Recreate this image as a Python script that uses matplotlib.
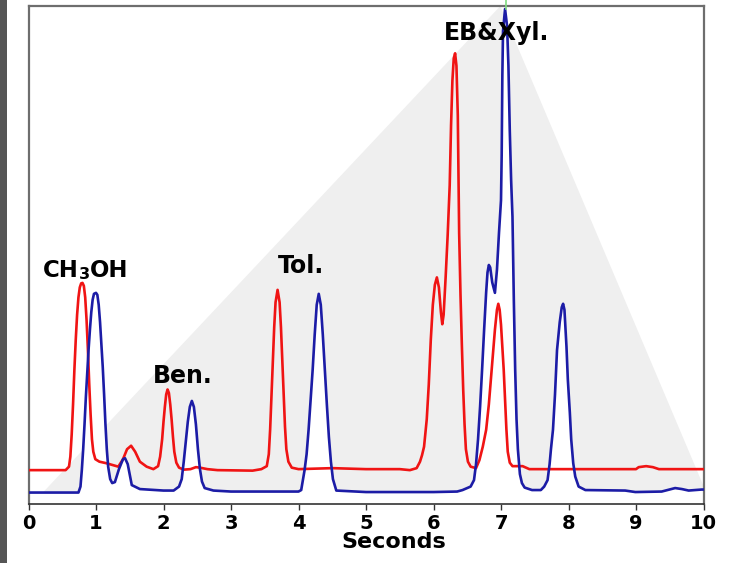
import matplotlib
matplotlib.use("Agg")
import matplotlib.pyplot as plt
from matplotlib.patches import Rectangle

# ---------------- data ----------------
red_t = [0.00, 0.55, 0.60, 0.62, 0.64, 0.66, 0.68, 0.70, 0.72, 0.74, 0.76, 0.78,
         0.80, 0.82, 0.84, 0.86, 0.88, 0.90, 0.92, 0.94, 0.96, 0.99, 1.05, 1.15,
         1.25, 1.33, 1.40, 1.46, 1.52, 1.58, 1.65, 1.75, 1.85, 1.92, 1.95, 1.98,
         2.00, 2.02, 2.04, 2.06, 2.08, 2.10, 2.12, 2.14, 2.16, 2.19, 2.23, 2.30,
         2.40, 2.48, 2.54, 2.65, 2.80, 3.32, 3.45, 3.53, 3.56, 3.58, 3.60, 3.62,
         3.64, 3.66, 3.69, 3.72, 3.74, 3.76, 3.78, 3.80, 3.82, 3.85, 3.90, 4.00,
         4.50, 5.00, 5.50, 5.65, 5.75, 5.80, 5.83, 5.86, 5.90, 5.93, 5.96, 5.99,
         6.02, 6.05, 6.08, 6.11, 6.13, 6.15, 6.18, 6.21, 6.24, 6.26, 6.28, 6.30,
         6.32, 6.34, 6.36, 6.37, 6.38, 6.40, 6.42, 6.44, 6.46, 6.48, 6.51, 6.55,
         6.63, 6.68, 6.73, 6.78, 6.82, 6.85, 6.88, 6.91, 6.94, 6.96, 6.98, 7.00,
         7.02, 7.04, 7.06, 7.08, 7.10, 7.13, 7.17, 7.32, 7.42, 9.00, 9.04, 9.15,
         9.25, 9.34, 10.00]
red_y = [6.8, 6.8, 7.5, 9.5, 14.0, 20.0, 27.0, 33.0, 38.0, 41.5, 43.5, 44.3,
         44.4, 43.8, 41.5, 37.0, 31.0, 24.0, 18.0, 13.0, 10.5, 9.0, 8.5, 8.2,
         7.8, 7.5, 9.0, 11.0, 11.7, 10.5, 8.5, 7.5, 7.0, 7.6, 9.5, 13.0,
         16.5, 19.5, 22.0, 23.0, 22.3, 20.0, 17.0, 13.5, 10.5, 8.3, 7.3, 6.9,
         7.0, 7.4, 7.3, 7.0, 6.8, 6.7, 7.0, 7.6, 10.0, 15.0, 22.0, 29.0,
         35.5, 40.5, 43.0, 40.5, 35.5, 29.0, 22.0, 15.5, 11.0, 8.5, 7.3, 7.0,
         7.2, 7.0, 7.0, 6.8, 7.2, 8.5, 9.8, 11.5, 17.0, 24.0, 33.0, 40.0,
         44.0, 45.5, 43.5, 38.5, 36.1, 38.0, 45.6, 54.0, 64.0, 76.0, 85.0, 89.5,
         90.5, 88.0, 78.0, 66.0, 54.4, 42.0, 32.0, 23.0, 16.0, 11.0, 8.5, 7.5,
         7.2, 8.8, 11.5, 14.9, 20.0, 24.9, 30.0, 35.0, 39.0, 40.2, 39.0, 36.0,
         31.5, 27.0, 21.0, 15.0, 10.5, 8.3, 7.6, 7.6, 7.0, 7.0, 7.4, 7.6,
         7.4, 7.0, 7.0]

blue_t = [0.00, 0.74, 0.77, 0.79, 0.81, 0.83, 0.85, 0.87, 0.89, 0.91, 0.93, 0.95,
          0.97, 1.00, 1.02, 1.04, 1.06, 1.08, 1.10, 1.12, 1.14, 1.16, 1.18, 1.21,
          1.24, 1.28, 1.34, 1.40, 1.43, 1.47, 1.53, 1.65, 2.00, 2.15, 2.23, 2.27,
          2.30, 2.33, 2.36, 2.39, 2.42, 2.45, 2.48, 2.51, 2.54, 2.57, 2.61, 2.74,
          3.00, 4.00, 4.04, 4.09, 4.12, 4.15, 4.18, 4.21, 4.24, 4.27, 4.30, 4.33,
          4.36, 4.39, 4.42, 4.45, 4.48, 4.51, 4.56, 5.00, 6.00, 6.35, 6.43, 6.55,
          6.60, 6.63, 6.66, 6.69, 6.72, 6.75, 6.78, 6.80, 6.82, 6.84, 6.87, 6.91,
          6.94, 6.97, 7.00, 7.01, 7.02, 7.03, 7.06, 7.09, 7.11, 7.13, 7.15, 7.17,
          7.19, 7.21, 7.23, 7.25, 7.28, 7.31, 7.35, 7.46, 7.59, 7.64, 7.69, 7.72,
          7.74, 7.77, 7.80, 7.83, 7.87, 7.90, 7.92, 7.94, 7.97, 7.99, 8.02, 8.04,
          8.07, 8.10, 8.15, 8.25, 8.84, 8.99, 9.38, 9.58, 9.68, 9.78, 9.97, 10.00]
blue_y = [2.3, 2.3, 3.5, 6.8, 11.0, 16.0, 21.5, 26.3, 31.0, 35.0, 38.5, 41.0,
          42.2, 42.4, 42.0, 40.0, 36.5, 32.0, 27.5, 22.0, 16.0, 11.0, 7.5, 5.0,
          4.2, 4.4, 7.0, 9.0, 9.2, 8.0, 3.8, 3.0, 2.7, 2.7, 3.5, 5.0,
          8.5, 12.5, 16.5, 19.5, 20.7, 19.5, 16.0, 11.0, 7.0, 4.5, 3.2, 2.7,
          2.5, 2.5, 2.8, 6.8, 10.0, 15.0, 21.0, 27.0, 34.0, 40.0, 42.2, 40.0,
          34.0, 27.0, 20.0, 13.5, 8.5, 5.0, 2.7, 2.4, 2.4, 2.5, 2.8, 3.5,
          4.8, 8.0, 13.0, 19.5, 27.0, 35.0, 42.5, 46.5, 48.0, 47.5, 44.5, 42.4,
          47.0, 54.4, 61.0, 70.0, 86.0, 95.0, 99.4, 96.0, 88.0, 75.0, 65.0, 57.7,
          41.0, 27.0, 17.0, 11.0, 6.0, 4.2, 3.3, 2.8, 2.8, 3.5, 4.8, 8.0,
          11.0, 14.9, 22.0, 30.9, 36.5, 39.5, 40.2, 39.0, 31.6, 25.0, 18.3, 13.0,
          8.2, 5.5, 3.5, 2.8, 2.7, 2.4, 2.5, 3.2, 3.0, 2.7, 2.9, 2.9]

tri_t = [0.15, 6.99, 10.07]
tri_y = [1.4, 100.0, 1.4]

x_ticks = [0, 1, 2, 3, 4, 5, 6, 7, 8, 9, 10]
x_label = "Seconds"
peak_labels = [("Ben.", 2.29, 24.3), ("Tol.", 4.04, 46.4), ("EB&Xyl.", 6.93, 93.1)]

# ---------------- figure ----------------
W, H = 738, 563
fig = plt.figure(figsize=(W / 100, H / 100), dpi=100)
fig.patches.append(Rectangle((0, 0), 7 / W, 1, transform=fig.transFigure,
                             facecolor="#555555", edgecolor="none", zorder=0))

ax = fig.add_axes([28.5 / W, 1 - 504 / H, (703.5 - 28.5) / W, (504 - 6) / H])
ax.set_xlim(0, 10)
ax.set_ylim(0, 100)

ax.fill(tri_t, tri_y, color="#efefef", lw=0, zorder=1)
ax.fill_between(blue_t, 0, blue_y, color="white", lw=0, zorder=2)
ax.plot(red_t, red_y, color="#f01414", lw=1.9, zorder=3, solid_joinstyle="round")
ax.plot(blue_t, blue_y, color="#1c1ca6", lw=1.9, zorder=4, solid_joinstyle="round")
ax.plot([7.08, 7.08], [99.4, 101.6], color="#80dc80", lw=1.2, clip_on=False, zorder=5)

for s in ["left", "top", "right"]:
    ax.spines[s].set_color("#6e6e6e")
    ax.spines[s].set_linewidth(1.6)
ax.spines["bottom"].set_color("#333333")
ax.spines["bottom"].set_linewidth(1.2)

ax.set_yticks([])
ax.set_xticks(x_ticks)
ax.set_xticklabels([str(v) for v in x_ticks], fontsize=14, fontweight="bold",
                   family="DejaVu Sans")
ax.tick_params(axis="x", direction="out", length=4, width=1, color="#333333", pad=3)

fig.text(393.5 / W, 1 - 548 / H, x_label, ha="center", va="baseline",
         fontsize=16, fontweight="bold", family="DejaVu Sans")

tfont = dict(fontweight="bold", family="DejaVu Sans", zorder=6)
for txt, xx, yy in peak_labels:
    ax.text(xx, yy, txt, ha="center", va="baseline", fontsize=17, **tfont)

# CH3OH label with smaller "3"
t1 = ax.text(0.22, 45.6, "CH", ha="left", va="baseline", fontsize=16.5, **tfont)
t2 = ax.annotate("3", xy=(1, 0), xycoords=t1, ha="left", va="bottom",
                 fontsize=11.5, **tfont)
t3 = ax.annotate("OH", xy=(1, 0), xycoords=t2, ha="left", va="bottom",
                 fontsize=16.5, **tfont)

fig.savefig("out.png", dpi=100)
